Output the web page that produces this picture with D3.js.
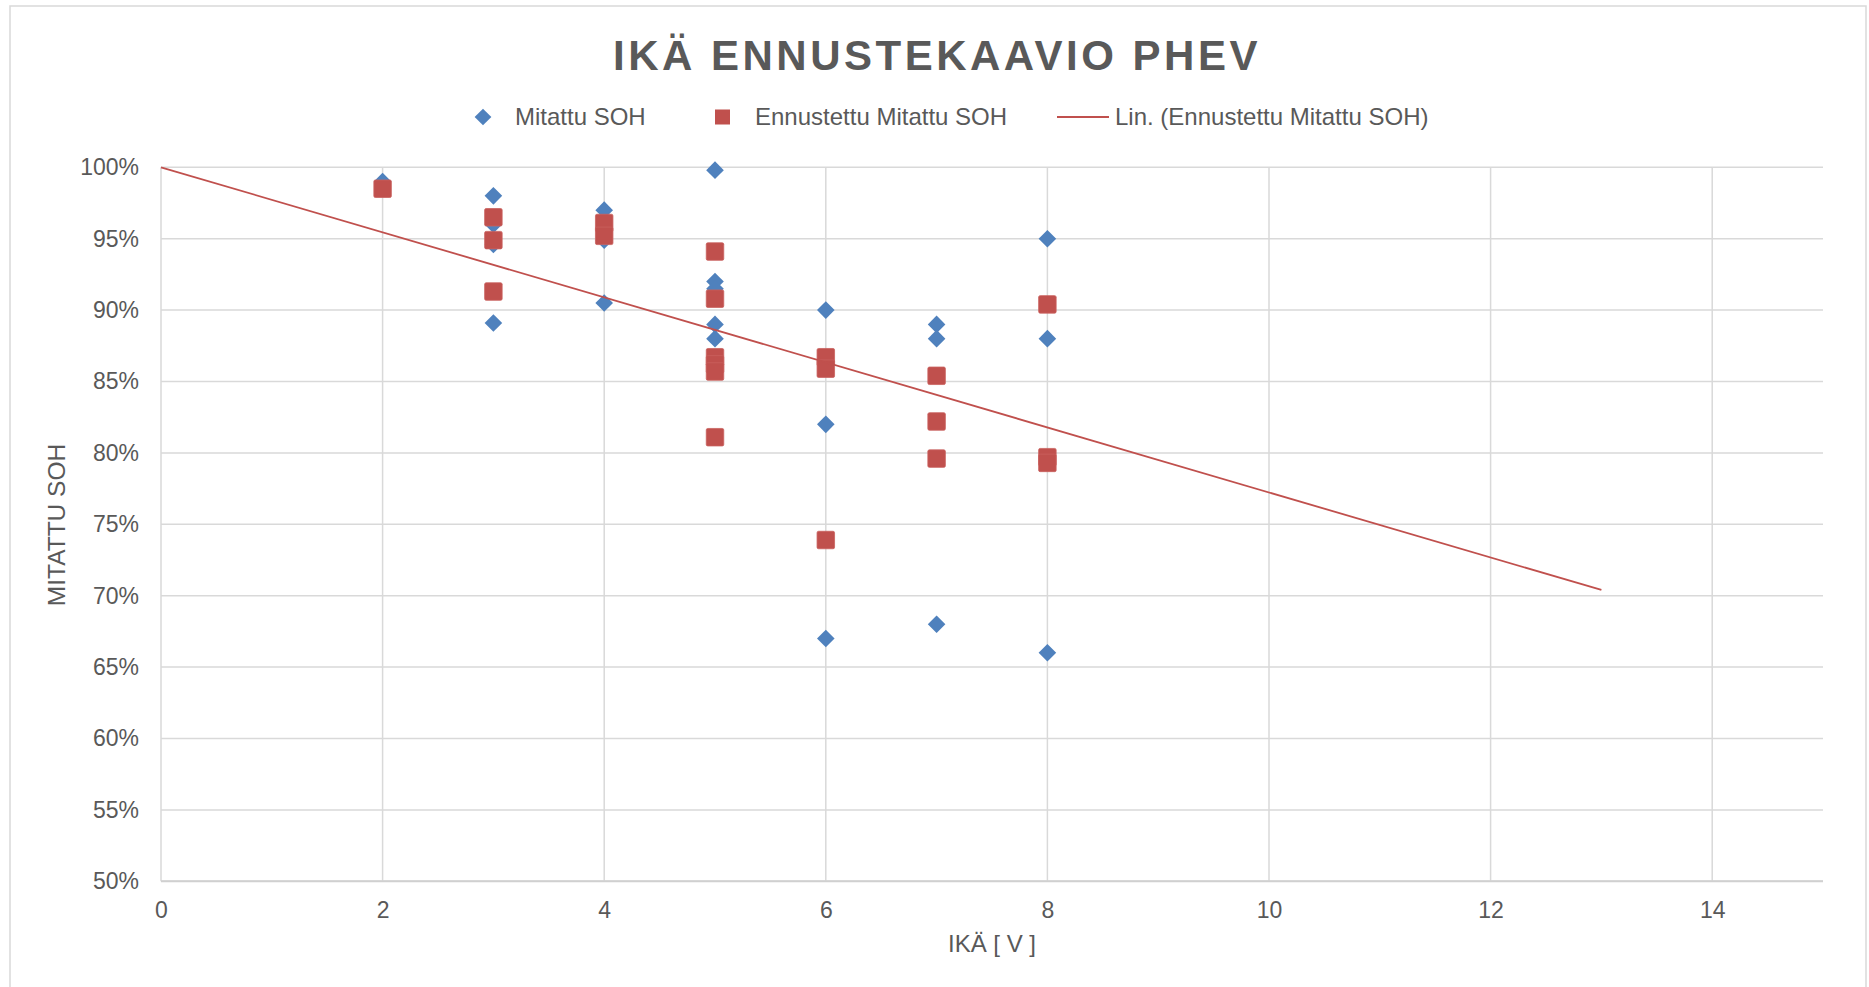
<!DOCTYPE html>
<html>
<head>
<meta charset="utf-8">
<script src="https://cdn.jsdelivr.net/npm/d3@7"></script>
<style>
  body { margin: 0; background: #fff; }
  text { font-family: "Liberation Sans", Arial, sans-serif; fill: #595959; }
</style>
</head>
<body>
<svg id="chart"></svg>
<script>
// Mitattu SOH (blue diamonds)
const ageMeasured = [2, 3, 3, 3, 3, 4, 4, 4, 5, 5, 5, 5, 5, 6, 6, 6, 7, 7, 7, 8, 8, 8];
const sohMeasured = [0.99, 0.98, 0.96, 0.946, 0.891, 0.97, 0.949, 0.905, 0.998, 0.92, 0.915, 0.89, 0.88,
                     0.90, 0.82, 0.67, 0.89, 0.88, 0.68, 0.95, 0.88, 0.66];

// Ennustettu Mitattu SOH (red squares)
const agePredicted = [2, 3, 3, 3, 4, 4, 5, 5, 5, 5, 5, 5, 6, 6, 6, 7, 7, 7, 8, 8, 8];
const sohPredicted = [0.985, 0.965, 0.949, 0.913, 0.961, 0.952, 0.941, 0.908, 0.867, 0.862, 0.857, 0.811,
                      0.867, 0.859, 0.739, 0.854, 0.822, 0.796, 0.904, 0.797, 0.793];

// Lin. trendline endpoints
const trendAge = [0, 13];
const trendSoh = [1.0, 0.704];

const xTicks = [0, 2, 4, 6, 8, 10, 12, 14];
const yTicks = [0.5, 0.55, 0.6, 0.65, 0.7, 0.75, 0.8, 0.85, 0.9, 0.95, 1.0];

const W = 1869, H = 987;
const plotL = 161, plotR = 1823, plotT = 167.3, plotB = 881.3;

const blue = "#4F81BD", red = "#C0504D", grid = "#D9D9D9";

const svg = d3.select("#chart").attr("width", W).attr("height", H);

// chart area border
svg.append("rect")
  .attr("x", 10).attr("y", 6)
  .attr("width", 1856).attr("height", H + 10)
  .attr("fill", "#fff").attr("stroke", grid).attr("stroke-width", 1.5);

const x = d3.scaleLinear().domain([0, 15]).range([plotL, plotR]);
const y = d3.scaleLinear().domain([0.5, 1.0]).range([plotB, plotT]);

// gridlines
svg.append("g").selectAll("line").data(yTicks).join("line")
  .attr("x1", plotL).attr("x2", plotR)
  .attr("y1", d => y(d)).attr("y2", d => y(d))
  .attr("stroke", grid).attr("stroke-width", 1.5);

svg.append("g").selectAll("line").data(xTicks).join("line")
  .attr("x1", d => x(d)).attr("x2", d => x(d))
  .attr("y1", plotT).attr("y2", plotB)
  .attr("stroke", grid).attr("stroke-width", 1.5);

// bottom axis line slightly stronger
svg.append("line")
  .attr("x1", plotL).attr("x2", plotR).attr("y1", plotB).attr("y2", plotB)
  .attr("stroke", "#D0D0D0").attr("stroke-width", 2);

// axes via d3
const xAxis = svg.append("g")
  .attr("transform", `translate(0,${plotB})`)
  .call(d3.axisBottom(x).tickValues(xTicks).tickSize(0).tickPadding(20));
xAxis.select(".domain").remove();
xAxis.selectAll("text").attr("font-size", 23).attr("fill", "#595959")
  .style("font-family", '"Liberation Sans", Arial, sans-serif');

const yAxis = svg.append("g")
  .attr("transform", `translate(${plotL},0)`)
  .call(d3.axisLeft(y).tickValues(yTicks).tickFormat(d3.format(".0%")).tickSize(0).tickPadding(22));
yAxis.select(".domain").remove();
yAxis.selectAll("text").attr("font-size", 23).attr("fill", "#595959")
  .style("font-family", '"Liberation Sans", Arial, sans-serif');

// diamonds
const diamond = d3.symbol().type(d3.symbolSquare).size(155);
svg.append("g").selectAll("path").data(d3.range(ageMeasured.length)).join("path")
  .attr("d", diamond)
  .attr("transform", i => `translate(${x(ageMeasured[i])},${y(sohMeasured[i])}) rotate(45)`)
  .attr("fill", blue);

// squares
const sq = 17.5;
svg.append("g").selectAll("rect").data(d3.range(agePredicted.length)).join("rect")
  .attr("x", i => x(agePredicted[i]) - sq / 2)
  .attr("y", i => y(sohPredicted[i]) - sq / 2)
  .attr("width", sq).attr("height", sq).attr("rx", 1.5)
  .attr("fill", red).attr("stroke", "#C9615E").attr("stroke-width", 0.8);

// trendline
svg.append("path")
  .datum(d3.range(trendAge.length))
  .attr("d", d3.line().x(i => x(trendAge[i])).y(i => y(trendSoh[i])))
  .attr("fill", "none").attr("stroke", red).attr("stroke-width", 1.8);

// title
svg.append("text")
  .attr("x", 937).attr("y", 70)
  .attr("text-anchor", "middle")
  .attr("font-size", 42).attr("font-weight", "bold")
  .attr("letter-spacing", 3.5)
  .text("IKÄ ENNUSTEKAAVIO PHEV");

// legend
const ly = 117;
svg.append("path")
  .attr("d", d3.symbol().type(d3.symbolSquare).size(140)())
  .attr("transform", `translate(483,${ly}) rotate(45)`)
  .attr("fill", blue);
svg.append("text").attr("x", 515).attr("y", ly).attr("dy", "0.35em")
  .attr("font-size", 24).text("Mitattu SOH");

svg.append("rect").attr("x", 715).attr("y", ly - 7.5).attr("width", 15).attr("height", 15)
  .attr("fill", red);
svg.append("text").attr("x", 755).attr("y", ly).attr("dy", "0.35em")
  .attr("font-size", 24).text("Ennustettu Mitattu SOH");

svg.append("line").attr("x1", 1057).attr("x2", 1109).attr("y1", ly).attr("y2", ly)
  .attr("stroke", red).attr("stroke-width", 2);
svg.append("text").attr("x", 1115).attr("y", ly).attr("dy", "0.35em")
  .attr("font-size", 24).text("Lin. (Ennustettu Mitattu SOH)");

// axis titles
svg.append("text")
  .attr("x", 992).attr("y", 944).attr("dy", "0.35em")
  .attr("text-anchor", "middle").attr("font-size", 24)
  .text("IKÄ [ V ]");

svg.append("text")
  .attr("transform", "translate(56,525) rotate(-90)")
  .attr("dy", "0.35em")
  .attr("text-anchor", "middle").attr("font-size", 24.5)
  .text("MITATTU SOH");
</script>
</body>
</html>
